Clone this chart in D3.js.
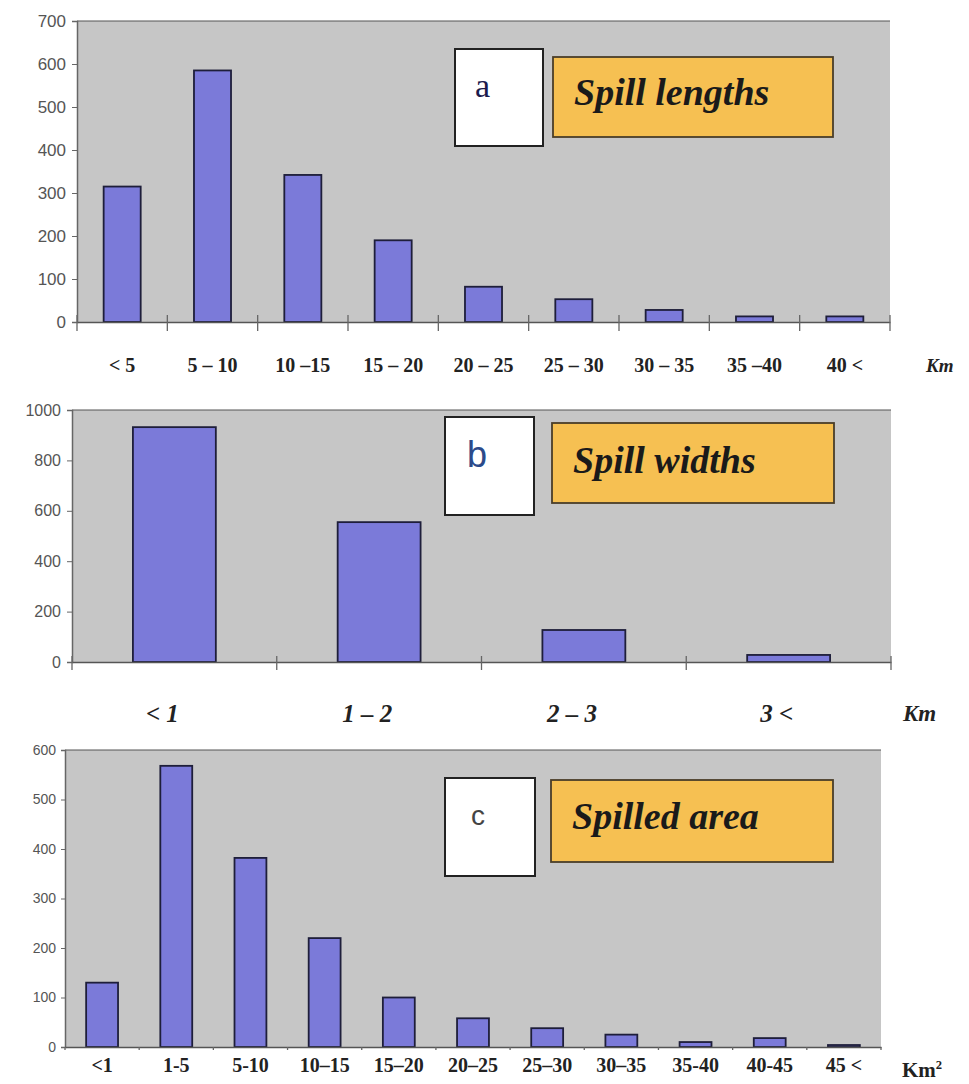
<!DOCTYPE html>
<html>
<head>
<meta charset="utf-8">
<script src="https://cdn.jsdelivr.net/npm/d3@7"></script>
<style>
  html, body { margin: 0; padding: 0; background: #ffffff; }
  svg { display: block; }
</style>
</head>
<body>
<svg id="chart" width="969" height="1084"></svg>
<script>
// ---------- DATA ----------
const catsA = ["< 5", "5 – 10", "10 –15", "15 – 20", "20 – 25", "25 – 30", "30 – 35", "35 –40", "40 <"];
const valsA = [315, 585, 342, 190, 82, 53, 28, 13, 13];
const ticksA = [0, 100, 200, 300, 400, 500, 600, 700];
const titleA = "Spill lengths";
const letterA = "a";
const unitA = "Km";

const catsB = ["< 1", "1 – 2", "2 – 3", "3 <"];
const valsB = [932, 555, 127, 28];
const ticksB = [0, 200, 400, 600, 800, 1000];
const titleB = "Spill widths";
const letterB = "b";
const unitB = "Km";

const catsC = ["<1", "1-5", "5-10", "10–15", "15–20", "20–25", "25–30", "30–35", "35-40", "40-45", "45 <"];
const valsC = [130, 568, 382, 220, 100, 58, 38, 25, 10, 18, 4];
const ticksC = [0, 100, 200, 300, 400, 500, 600];
const titleC = "Spilled area";
const letterC = "c";
const unitC = "Km";

// ---------- DRAW ----------
const svg = d3.select("#chart");
const serif = "'Liberation Serif', 'Times New Roman', serif";
const sans = "'Liberation Sans', Arial, sans-serif";

function panel(o) {
  const g = svg.append("g");
  const x = d3.scaleBand().domain(o.cats).range([o.left, o.right]).paddingInner(o.gap).paddingOuter(o.gap / 2);
  const y = d3.scaleLinear().domain([0, o.max]).range([o.bottom, o.top]);

  // plot background
  g.append("rect").attr("x", o.left).attr("y", o.top).attr("width", o.right - o.left).attr("height", o.bottom - o.top)
    .attr("fill", "#c6c6c6");
  g.append("line").attr("x1", o.left).attr("x2", o.right).attr("y1", o.top).attr("y2", o.top)
    .attr("stroke", "#555").attr("stroke-width", 1.2);

  // bars
  g.selectAll("rect.bar").data(o.vals).join("rect").attr("class", "bar")
    .attr("x", (d, i) => x(o.cats[i]))
    .attr("y", d => y(d))
    .attr("width", x.bandwidth())
    .attr("height", d => o.bottom - y(d))
    .attr("fill", "#7b7ad9")
    .attr("stroke", "#1e1e3a").attr("stroke-width", 1.8);

  // y axis
  const ya = g.append("g").attr("transform", `translate(${o.left},0)`)
    .call(d3.axisLeft(y).tickValues(o.ticks).tickSize(o.ytick).tickPadding(o.ypad).tickFormat(d3.format("d")));
  ya.select(".domain").attr("stroke", "#666").attr("stroke-width", 1.5);
  ya.selectAll(".tick line").attr("stroke", "#666");
  ya.selectAll("text").attr("font-family", sans).attr("font-size", o.yfs).attr("fill", "#555");

  // x axis
  const xa = g.append("g").attr("transform", `translate(0,${o.bottom})`)
    .call(d3.axisBottom(x).tickSize(0).tickPadding(o.xpad));
  xa.select(".domain").attr("stroke", "#555").attr("stroke-width", 1.5);
  xa.selectAll("text").attr("font-family", serif).attr("font-size", o.xfs)
    .attr("font-weight", "bold").attr("font-style", o.xitalic ? "italic" : "normal")
    .attr("fill", "#222").attr("dx", o.xdx || 0);
  const step = x.step();
  const bounds = o.cats.map((c, i) => x(c) - step * o.gap / 2).concat([o.right]);
  g.selectAll("line.btick").data(bounds).join("line").attr("class", "btick")
    .attr("x1", d => d).attr("x2", d => d)
    .attr("y1", o.bottom - o.btickUp).attr("y2", o.bottom + o.btick)
    .attr("stroke", "#666").attr("stroke-width", 1.3);

  // unit
  const u = g.append("text").attr("x", o.unitX).attr("y", o.unitY)
    .attr("font-family", serif).attr("font-size", o.unitFs).attr("font-weight", "bold")
    .attr("font-style", o.unitItalic ? "italic" : "normal").attr("fill", "#222").text(o.unit);
  if (o.unitSup) u.append("tspan").attr("dy", -o.unitFs * 0.4).attr("font-size", o.unitFs * 0.6).text("2");

  // letter box
  g.append("rect").attr("x", o.lbx).attr("y", o.lby).attr("width", o.lbw).attr("height", o.lbh)
    .attr("fill", "#ffffff").attr("stroke", "#222").attr("stroke-width", 2);
  g.append("text").attr("x", o.lbx + o.ltx).attr("y", o.lby + o.lty)
    .attr("font-family", o.lfont).attr("font-size", o.lfs).attr("fill", o.lcolor).text(o.letter);

  // title box
  g.append("rect").attr("x", o.tbx).attr("y", o.tby).attr("width", o.tbw).attr("height", o.tbh)
    .attr("fill", "#f6c052").attr("stroke", "#4a3d28").attr("stroke-width", 1.8);
  g.append("text").attr("x", o.tbx + 21).attr("y", o.tby + o.tty)
    .attr("font-family", serif).attr("font-size", o.tfs).attr("font-weight", "bold").attr("font-style", "italic")
    .attr("fill", "#1a1a1a").text(o.title);
}

panel({
  cats: catsA, vals: valsA, ticks: ticksA, max: 700, title: titleA, letter: letterA, unit: unitA,
  left: 77, right: 890, top: 21, bottom: 322, gap: 0.59,
  ytick: 5, ypad: 6, yfs: 17, xpad: 36, xfs: 20, xitalic: false, btick: 9, btickUp: 7,
  unitX: 926, unitY: 372, unitFs: 19, unitItalic: true,
  lbx: 455, lby: 49, lbw: 88, lbh: 97, ltx: 20, lty: 48, lfs: 34, lfont: serif, lcolor: "#1b1b4d",
  tbx: 553, tby: 57, tbw: 280, tbh: 80, tty: 48, tfs: 38
});

panel({
  cats: catsB, vals: valsB, ticks: ticksB, max: 1000, title: titleB, letter: letterB, unit: unitB,
  left: 72, right: 891, top: 410, bottom: 662, gap: 0.595,
  ytick: 5, ypad: 6, yfs: 16, xpad: 42, xfs: 25, xitalic: true, xdx: -12, btick: 8, btickUp: 6,
  unitX: 903, unitY: 721, unitFs: 23, unitItalic: true,
  lbx: 445, lby: 417, lbw: 89, lbh: 98, ltx: 22, lty: 50, lfs: 36, lfont: sans, lcolor: "#2c4a8a",
  tbx: 552, tby: 423, tbw: 282, tbh: 80, tty: 50, tfs: 38
});

panel({
  cats: catsC, vals: valsC, ticks: ticksC, max: 600, title: titleC, letter: letterC, unit: unitC,
  left: 65, right: 881, top: 750, bottom: 1047, gap: 0.57,
  ytick: 4, ypad: 5, yfs: 14, xpad: 11, xfs: 20, xitalic: false, btick: 3, btickUp: 0,
  unitX: 902, unitY: 1077, unitFs: 21, unitItalic: false, unitSup: true,
  lbx: 445, lby: 778, lbw: 90, lbh: 98, ltx: 26, lty: 47, lfs: 28, lfont: sans, lcolor: "#444",
  tbx: 551, tby: 780, tbw: 282, tbh: 82, tty: 49, tfs: 38
});
</script>
</body>
</html>
